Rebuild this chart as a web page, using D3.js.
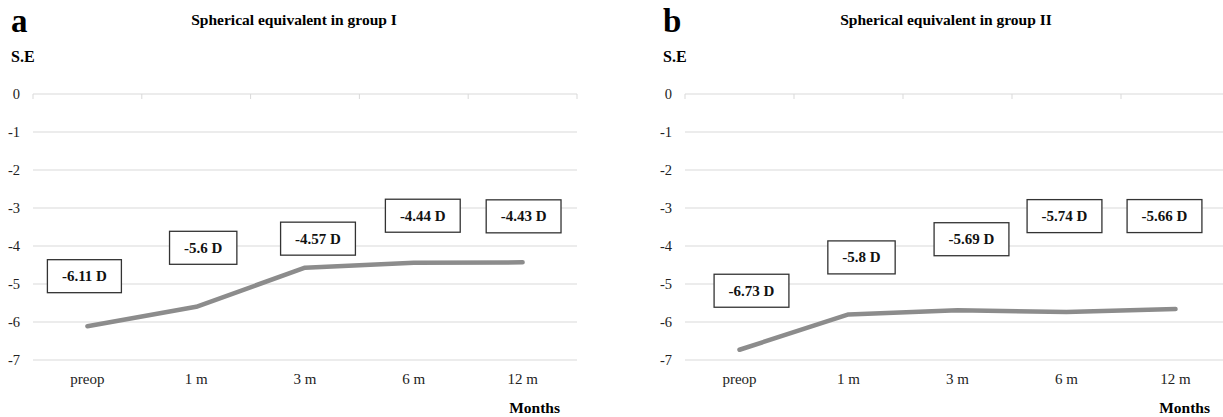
<!DOCTYPE html>
<html>
<head>
<meta charset="utf-8">
<script src="https://cdn.jsdelivr.net/npm/d3@7"></script>
<style>
  body { margin: 0; background: #fff; }
  svg { font-family: "Liberation Serif", "Times New Roman", serif; }
</style>
</head>
<body>
<svg id="chart" width="1223" height="417"></svg>
<script>
const months = ["preop", "1 m", "3 m", "6 m", "12 m"];
const groupI = [-6.11, -5.6, -4.57, -4.44, -4.43];
const groupII = [-6.73, -5.8, -5.69, -5.74, -5.66];
const yTicks = [0, -1, -2, -3, -4, -5, -6, -7];

const panels = [
  {letter: "a", title: "Spherical equivalent in group I", values: groupI,
   left: 33, right: 577, titleX: 294, monthsX: 560,
   // label box offsets from the point (px)
   offsets: [[-3, -50], [7, -59], [13, -29], [9, -47], [1, -46]]},
  {letter: "b", title: "Spherical equivalent in group II", values: groupII,
   left: 685, right: 1230, titleX: 946, monthsX: 1210,
   offsets: [[12, -59], [13, -57], [14, -71], [-2, -96], [-11, -93]]}
];

const svg = d3.select("#chart");
const top0 = 94, bottom7 = 360;

panels.forEach(p => {
  const g = svg.append("g");
  const x = d3.scaleBand().domain(months).range([p.left, p.right]);
  const y = d3.scaleLinear().domain([0, -7]).range([top0, bottom7]);

  // gridlines
  g.selectAll("line.grid")
    .data(yTicks)
    .join("line")
      .attr("class", "grid")
      .attr("x1", p.left).attr("x2", p.right)
      .attr("y1", d => y(d)).attr("y2", d => y(d))
      .attr("stroke", "#d9d9d9")
      .attr("stroke-width", 1);

  // category ticks on the zero line
  const bounds = months.map(m => x(m)).concat([p.right]);
  g.selectAll("line.tick")
    .data(bounds)
    .join("line")
      .attr("x1", d => d).attr("x2", d => d)
      .attr("y1", y(0)).attr("y2", y(0) + 5)
      .attr("stroke", "#d9d9d9");

  // y tick labels
  g.selectAll("text.ylab")
    .data(yTicks)
    .join("text")
      .attr("x", p.left - 13)
      .attr("y", d => y(d) + 5)
      .attr("text-anchor", "end")
      .attr("font-size", 14.5)
      .attr("fill", "#222")
      .text(d => d);

  // x labels
  g.selectAll("text.xlab")
    .data(months)
    .join("text")
      .attr("x", d => x(d) + x.bandwidth() / 2)
      .attr("y", 384)
      .attr("text-anchor", "middle")
      .attr("font-size", 15)
      .attr("fill", "#222")
      .text(d => d);

  // line
  const line = d3.line()
    .x((d, i) => x(months[i]) + x.bandwidth() / 2)
    .y(d => y(d));
  g.append("path")
    .datum(p.values)
    .attr("d", line)
    .attr("fill", "none")
    .attr("stroke", "#8c8c8c")
    .attr("stroke-width", 4.5)
    .attr("stroke-linejoin", "round")
    .attr("stroke-linecap", "round");

  // data labels
  p.values.forEach((v, i) => {
    const cx = x(months[i]) + x.bandwidth() / 2 + p.offsets[i][0];
    const cy = y(v) + p.offsets[i][1];
    const lg = g.append("g");
    const t = lg.append("text")
      .attr("x", cx).attr("y", cy + 5)
      .attr("text-anchor", "middle")
      .attr("font-size", 15)
      .attr("font-weight", "bold")
      .attr("fill", "#111")
      .text(v + " D");
    const w = t.node().getComputedTextLength() + 29;
    lg.insert("rect", "text")
      .attr("x", cx - w / 2).attr("y", cy - 16.5)
      .attr("width", w).attr("height", 33)
      .attr("fill", "#fff")
      .attr("stroke", "#333")
      .attr("stroke-width", 1.3);
  });

  // titles
  g.append("text")
    .attr("x", p.titleX).attr("y", 25)
    .attr("text-anchor", "middle")
    .attr("font-size", 15.5)
    .attr("font-weight", "bold")
    .text(p.title);
  g.append("text")
    .attr("x", p.left - 22).attr("y", 32)
    .attr("font-size", 33)
    .attr("font-weight", "bold")
    .text(p.letter);
  g.append("text")
    .attr("x", p.left - 22).attr("y", 62)
    .attr("font-size", 16)
    .attr("font-weight", "bold")
    .text("S.E");
  g.append("text")
    .attr("x", p.monthsX).attr("y", 413)
    .attr("text-anchor", "end")
    .attr("font-size", 15.5)
    .attr("font-weight", "bold")
    .text("Months");
});
</script>
</body>
</html>
